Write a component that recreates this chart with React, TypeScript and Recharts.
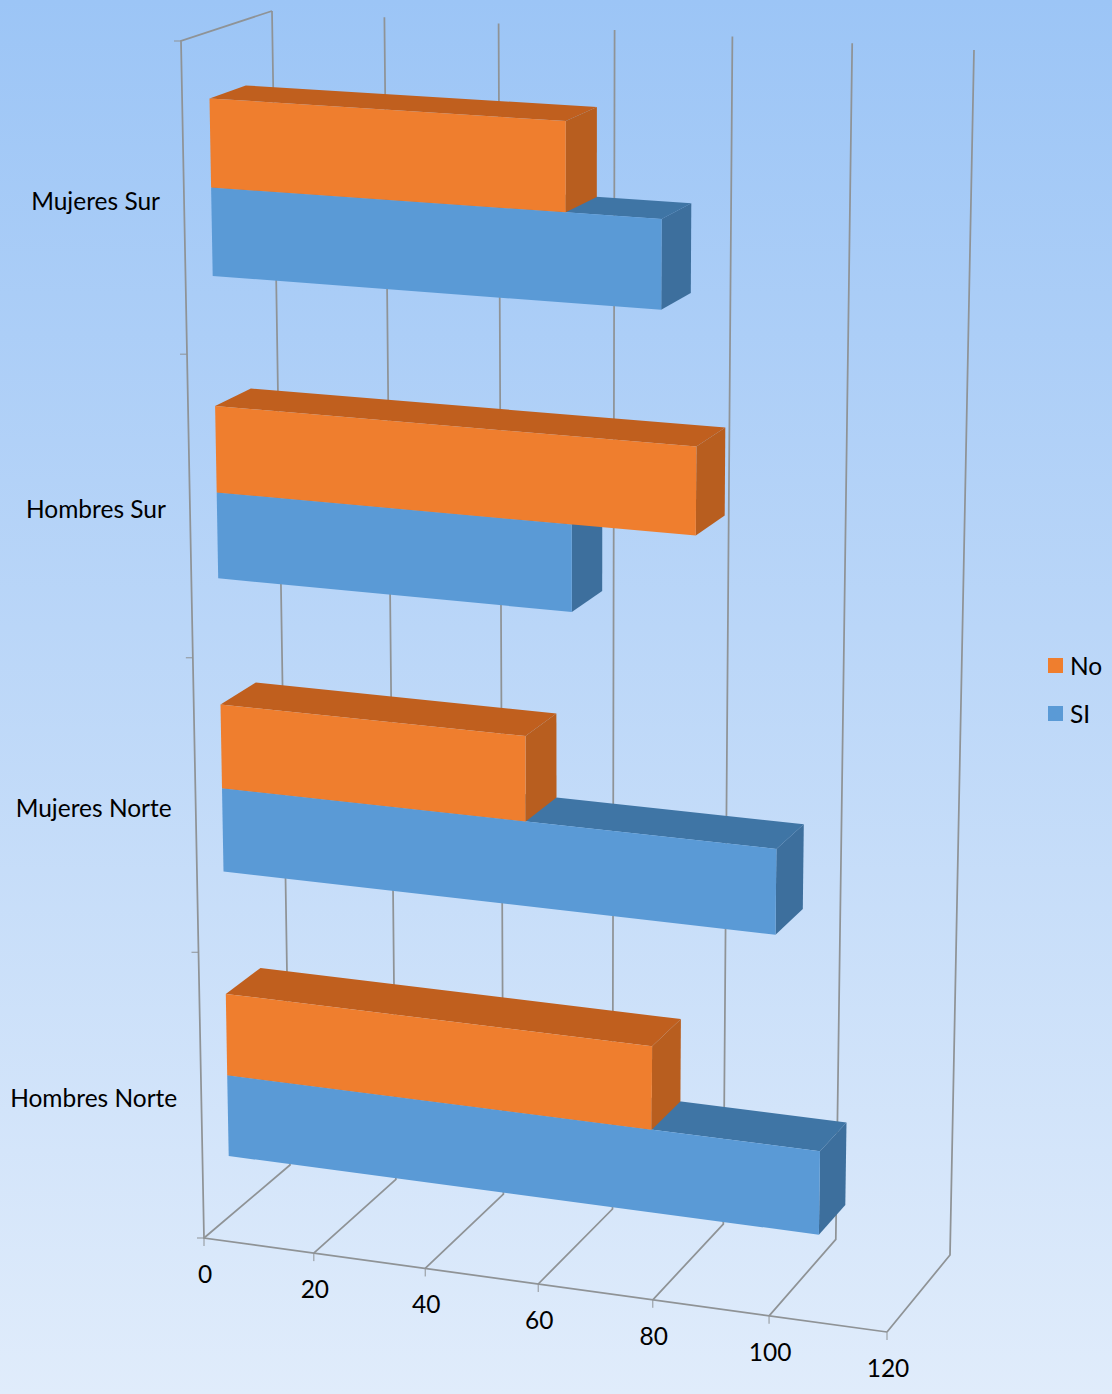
import { BarChart, Bar, XAxis, YAxis, CartesianGrid, Legend } from 'recharts';

// Bottom-up order, same as the sheet the chart plots from
const categories = ['Hombres Norte', 'Mujeres Norte', 'Hombres Sur', 'Mujeres Sur'];
const siValues = [105, 97, 62, 77];
const noValues = [76, 54, 83, 61];
const xTicks = [0, 20, 40, 60, 80, 100, 120];

const data = categories.map((name, i) => ({ name, SI: siValues[i], No: noValues[i] }));

const WIDTH = 1112;
const HEIGHT = 1394;
const LEGEND_WIDTH = 64;

// Flat plot rectangle handed to Recharts, before the 3D projection
const PLOT = { left: 200, top: 40, width: 712, height: 1200 };

type Pt = [number, number];

// Projected corners of the box: top-left, top-right, bottom-right, bottom-left
const FRONT_WALL: Pt[] = [[181, 41], [908, 85.5], [887, 1332], [204, 1238]];
const BACK_WALL: Pt[] = [[272, 11], [974, 50], [950, 1255], [290, 1165]];

// Bars sit in the middle of the depth (gap depth 150%)
const BAR_FRONT = 0.3;
const BAR_BACK = 0.7;

const GRID_COLOR = '#8f9396';
const FONT = 'Lato, sans-serif';

// Unit square -> quad homography
function makeHomography(q: Pt[]) {
    const [[x0, y0], [x1, y1], [x2, y2], [x3, y3]] = q;
    const dx1 = x1 - x2, dx2 = x3 - x2, dx3 = x0 - x1 + x2 - x3;
    const dy1 = y1 - y2, dy2 = y3 - y2, dy3 = y0 - y1 + y2 - y3;
    const den = dx1 * dy2 - dx2 * dy1;
    const g = (dx3 * dy2 - dx2 * dy3) / den;
    const h = (dx1 * dy3 - dx3 * dy1) / den;
    const a = x1 - x0 + g * x1, b = x3 - x0 + h * x3;
    const d = y1 - y0 + g * y1, e = y3 - y0 + h * y3;
    return (u: number, v: number): Pt => {
        const w = g * u + h * v + 1;
        return [(a * u + b * v + x0) / w, (d * u + e * v + y0) / w];
    };
}

const frontWall = makeHomography(FRONT_WALL);
const backWall = makeHomography(BACK_WALL);

function project(u: number, v: number, depth: number): Pt {
    const f = frontWall(u, v);
    const b = backWall(u, v);
    return [f[0] + (b[0] - f[0]) * depth, f[1] + (b[1] - f[1]) * depth];
}

const toU = (x: number) => (x - PLOT.left) / PLOT.width;
// The flat chart runs top-down, the box bottom-up: first category lands on the floor,
// and the first series below the second, which also gets the paint order right
const toV = (y: number) => 1 - (y - PLOT.top) / PLOT.height;
const pts = (list: Pt[]) => list.map((p) => `${p[0].toFixed(1)},${p[1].toFixed(1)}`).join(' ');

// Three visible faces of a bar
function Bar3D(colors: { front: string; top: string; side: string }) {
    return function Bar3DShape(props: any) {
        const { x, y, width, height } = props;
        const u0 = toU(x);
        const u1 = toU(x + width);
        const v0 = toV(y + height);
        const v1 = toV(y);
        return (
            <g>
                <polygon
                    fill={colors.top}
                    points={pts([
                        project(u0, v0, BAR_FRONT),
                        project(u0, v0, BAR_BACK),
                        project(u1, v0, BAR_BACK),
                        project(u1, v0, BAR_FRONT),
                    ])}
                />
                <polygon
                    fill={colors.side}
                    points={pts([
                        project(u1, v0, BAR_FRONT),
                        project(u1, v0, BAR_BACK),
                        project(u1, v1, BAR_BACK),
                        project(u1, v1, BAR_FRONT),
                    ])}
                />
                <polygon
                    fill={colors.front}
                    points={pts([
                        project(u0, v0, BAR_FRONT),
                        project(u1, v0, BAR_FRONT),
                        project(u1, v1, BAR_FRONT),
                        project(u0, v1, BAR_FRONT),
                    ])}
                />
            </g>
        );
    };
}

const NoShape = Bar3D({ front: '#EF7E2E', top: '#C05F1E', side: '#B85E1F' });
const SiShape = Bar3D({ front: '#5A9AD6', top: '#3F75A5', side: '#3D6F9D' });

// Floor rung and back wall upright for one value, plus the open side wall at zero
function GridLine(props: any) {
    const u = toU(props.x1);
    const rung = [project(u, 1, 0), project(u, 1, 1), project(u, 0, 1)];
    const isOrigin = Math.abs(u) < 1e-6;
    const common = { fill: 'none', stroke: GRID_COLOR, strokeWidth: 1.75 };
    const foot = project(u, 1, 0);
    return (
        <g key={props.key}>
            <polyline {...common} points={pts(rung)} />
            <line {...common} strokeWidth={1} x1={foot[0]} y1={foot[1]} x2={foot[0]} y2={foot[1] + 8} />
            {isOrigin && (
                <>
                    <polyline
                        {...common}
                        points={pts([project(0, 0, 1), project(0, 0, 0), project(0, 1, 0), project(1, 1, 0)])}
                    />
                    {[0, 1, 2, 3, 4].map((i) => {
                        const p = project(0, i / categories.length, 0);
                        return (
                            <line
                                key={i}
                                stroke={GRID_COLOR}
                                x1={p[0] - 7}
                                y1={p[1]}
                                x2={p[0]}
                                y2={p[1]}
                            />
                        );
                    })}
                </>
            )}
        </g>
    );
}

function ValueTick({ x, payload }: any) {
    const p = project(toU(x), 1, 0);
    return (
        <text x={p[0] + 1} y={p[1] + 45} textAnchor="middle" fontFamily={FONT} fontSize={24.5} fill="#000">
            {payload.value}
        </text>
    );
}

function CategoryTick({ y, payload }: any) {
    const p = project(0, toV(y), 0);
    return (
        <text x={p[0] - 24} y={p[1] + 11} textAnchor="end" fontFamily={FONT} fontSize={24.5} fill="#000">
            {payload.value}
        </text>
    );
}

function LegendList({ payload }: any) {
    return (
        <div style={{ fontFamily: FONT, fontSize: 24.5, color: '#000' }}>
            {(payload ?? []).map((item: any) => (
                <div key={item.value} style={{ display: 'flex', alignItems: 'center', height: 48 }}>
                    <span style={{ width: 15, height: 15, background: item.color, marginRight: 7 }} />
                    {item.value}
                </div>
            ))}
        </div>
    );
}

export default function App() {
    return (
        <div
            style={{
                position: 'absolute',
                left: 0,
                top: 0,
                width: WIDTH,
                height: HEIGHT,
                background: 'linear-gradient(180deg, #9CC5F6 0%, #BAD6F8 45%, #E0ECFB 100%)',
            }}
        >
            <BarChart
                width={WIDTH}
                height={HEIGHT}
                data={data}
                layout="vertical"
                barCategoryGap="21.5%"
                barGap={0}
                margin={{
                    top: PLOT.top,
                    left: 0,
                    right: WIDTH - PLOT.left - PLOT.width - LEGEND_WIDTH,
                    bottom: HEIGHT - PLOT.top - PLOT.height - 100,
                }}
            >
                <CartesianGrid horizontal={false} vertical={GridLine} />
                <XAxis
                    type="number"
                    domain={[0, 120]}
                    ticks={xTicks}
                    interval={0}
                    height={100}
                    axisLine={false}
                    tickLine={false}
                    tick={ValueTick}
                />
                <YAxis
                    type="category"
                    dataKey="name"
                    width={PLOT.left}
                    axisLine={false}
                    tickLine={false}
                    tick={CategoryTick}
                />
                <Legend
                    layout="vertical"
                    align="right"
                    verticalAlign="middle"
                    width={LEGEND_WIDTH}
                    content={LegendList}
                    wrapperStyle={{ left: 1048, top: 641, width: LEGEND_WIDTH }}
                />
                <Bar dataKey="SI" fill="#5A9AD6" shape={SiShape} isAnimationActive={false} />
                <Bar dataKey="No" fill="#EF7E2E" shape={NoShape} isAnimationActive={false} />
            </BarChart>
        </div>
    );
}
